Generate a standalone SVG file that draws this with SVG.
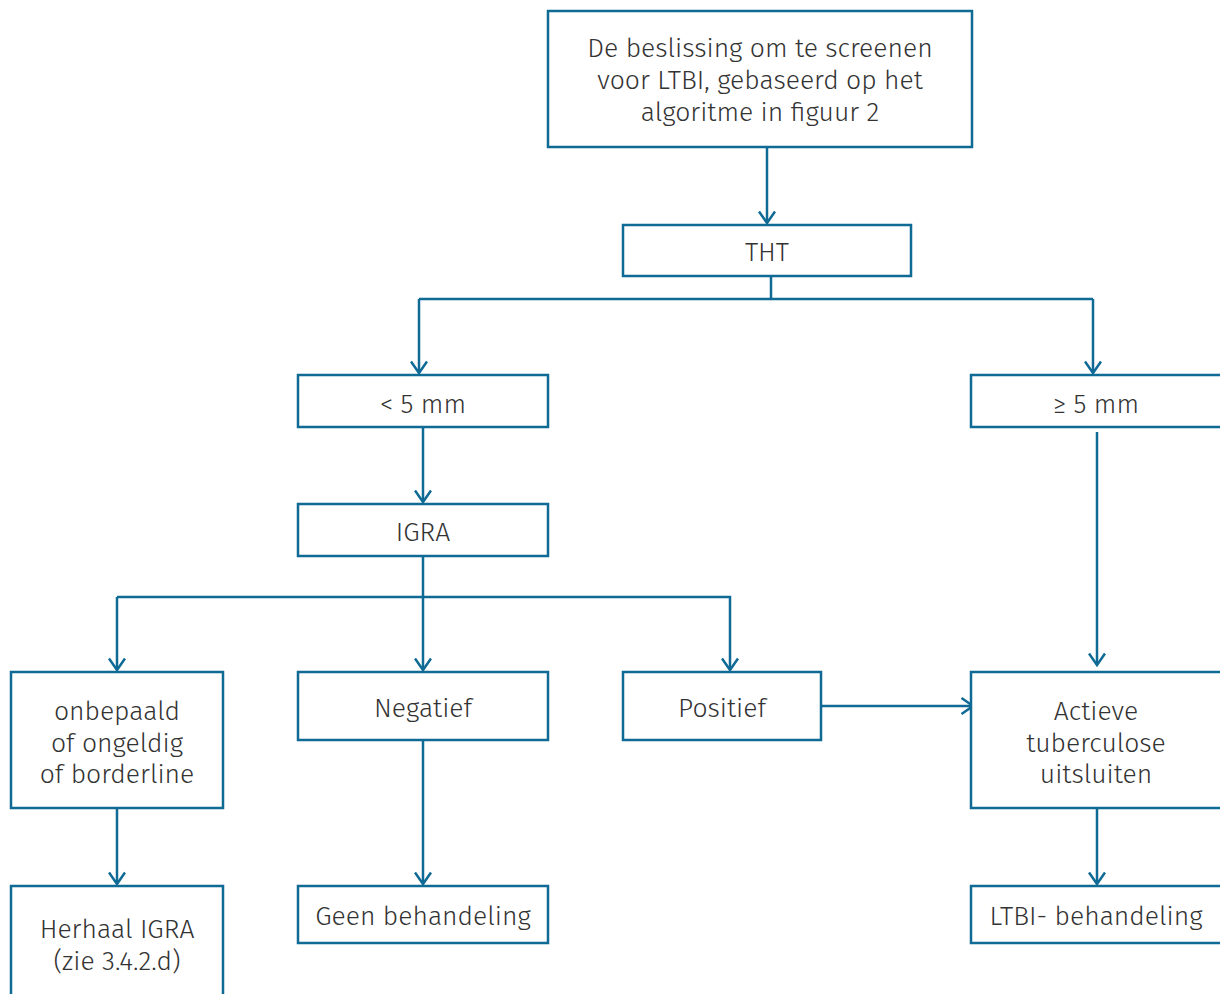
<svg xmlns="http://www.w3.org/2000/svg" width="1220" height="994" viewBox="0 0 1220 994">
<defs>
<style>
.box{fill:#fff;stroke:#0f6a95;stroke-width:2.5}
.c{fill:none;stroke:#0f6a95;stroke-width:2.5}
text{font-family:"Fira Sans",Lato,"Open Sans",sans-serif;font-weight:300;font-size:26.5px;fill:#333;text-anchor:middle}
</style>
<marker id="a" viewBox="0 0 16 18" markerWidth="16" markerHeight="18" refX="13" refY="9" orient="auto" markerUnits="userSpaceOnUse">
<path d="M1.5,1 L13,9 L1.5,17" fill="none" stroke="#0f6a95" stroke-width="2.5"/>
</marker>
</defs>
<rect width="1220" height="994" fill="#fff"/>
<g id="connectors">
<line class="c" x1="767" y1="147" x2="767" y2="223" marker-end="url(#a)"/>
<polyline class="c" points="771,276 771,299"/>
<polyline class="c" points="419,299 1093,299"/>
<line class="c" x1="419" y1="299" x2="419" y2="373" marker-end="url(#a)"/>
<line class="c" x1="1093" y1="299" x2="1093" y2="373" marker-end="url(#a)"/>
<line class="c" x1="423" y1="427" x2="423" y2="502" marker-end="url(#a)"/>
<line class="c" x1="423" y1="556" x2="423" y2="670" marker-end="url(#a)"/>
<polyline class="c" points="117,597 730,597 730,670" marker-end="url(#a)"/>
<line class="c" x1="117" y1="597" x2="117" y2="670" marker-end="url(#a)"/>
<line class="c" x1="1097" y1="432" x2="1097" y2="665" marker-end="url(#a)"/>
<line class="c" x1="817" y1="706" x2="973" y2="706" marker-end="url(#a)"/>
<line class="c" x1="117" y1="808" x2="117" y2="884" marker-end="url(#a)"/>
<line class="c" x1="423" y1="740" x2="423" y2="884" marker-end="url(#a)"/>
<line class="c" x1="1097" y1="808" x2="1097" y2="884" marker-end="url(#a)"/>
</g>
<g id="n-start"><rect class="box" x="548" y="11" width="424" height="136"/>
<text x="760" y="57">De beslissing om te screenen</text>
<text x="760" y="89">voor LTBI, gebaseerd op het</text>
<text x="760" y="121">algoritme in figuur 2</text></g>
<g id="n-tht"><rect class="box" x="623" y="225" width="288" height="51"/><text x="767" y="261">THT</text></g>
<g id="n-lt5"><rect class="box" x="298" y="375" width="250" height="52"/><text x="423" y="413">&lt; 5 mm</text></g>
<g id="n-ge5"><rect class="box" x="971" y="375" width="252" height="52"/><text x="1096" y="413">≥ 5 mm</text></g>
<g id="n-igra"><rect class="box" x="298" y="504" width="250" height="52"/><text x="423" y="541">IGRA</text></g>
<g id="n-onb"><rect class="box" x="11" y="672" width="212" height="136"/>
<text x="117" y="720">onbepaald</text><text x="117" y="752">of ongeldig</text><text x="117" y="783">of borderline</text></g>
<g id="n-neg"><rect class="box" x="298" y="672" width="250" height="68"/><text x="423" y="717">Negatief</text></g>
<g id="n-pos"><rect class="box" x="623" y="672" width="198" height="68"/><text x="722" y="717">Positief</text></g>
<g id="n-act"><rect class="box" x="971" y="672" width="252" height="136"/>
<text x="1096" y="720">Actieve</text><text x="1096" y="752">tuberculose</text><text x="1096" y="783">uitsluiten</text></g>
<g id="n-her"><rect class="box" x="11" y="886" width="212" height="112"/>
<text x="117" y="938">Herhaal IGRA</text><text x="117" y="970">(zie 3.4.2.d)</text></g>
<g id="n-geen"><rect class="box" x="298" y="886" width="250" height="57"/><text x="423" y="925">Geen behandeling</text></g>
<g id="n-ltbi"><rect class="box" x="971" y="886" width="252" height="57"/><text x="1096" y="925">LTBI- behandeling</text></g>
</svg>
